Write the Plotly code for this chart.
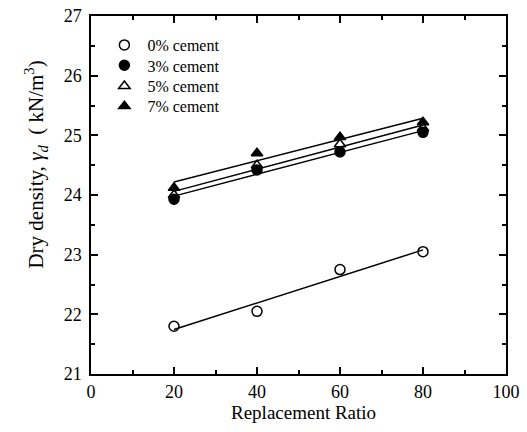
import numpy as np
import plotly.graph_objects as go

replacement_ratio = [20, 40, 60, 80]
series_names = ["0% cement", "3% cement", "5% cement", "7% cement"]
dens_0 = [21.80, 22.05, 22.75, 23.05]
dens_3 = [23.93, 24.42, 24.72, 25.05]
dens_5 = [24.00, 24.50, 24.85, 25.12]
dens_7 = [24.12, 24.70, 24.97, 25.22]
x_ticks = [0, 20, 40, 60, 80, 100]
y_ticks = [21, 22, 23, 24, 25, 26, 27]

symbols = ["circle-open", "circle", "triangle-up-open", "triangle-up"]
legend_ids = ["legend", "legend2", "legend3", "legend4"]
legend_rows = [0.919, 0.862, 0.804, 0.748]
FONT = "Liberation Serif, Times New Roman, serif"

fig = go.Figure()
for name, ys, sym, lg in zip(series_names, [dens_0, dens_3, dens_5, dens_7], symbols, legend_ids):
    k, b = np.polyfit(replacement_ratio, ys, 1)
    xf = [replacement_ratio[0], replacement_ratio[-1]]
    fig.add_trace(go.Scatter(x=xf, y=[k * v + b for v in xf], mode="lines",
                             line=dict(color="black", width=1.5), showlegend=False,
                             hoverinfo="skip"))
    fig.add_trace(go.Scatter(x=replacement_ratio, y=ys, mode="markers", name=name, legend=lg,
                             marker=dict(symbol=sym, size=10, color="black",
                                         line=dict(color="black", width=1.5))))

axis_common = dict(showline=True, linecolor="black", linewidth=1.5, mirror="ticks",
                   ticks="inside", ticklen=7, tickwidth=1.5, tickcolor="black",
                   showgrid=False, zeroline=False, automargin=False,
                   tickfont=dict(family=FONT, size=18, color="black"))

fig.update_xaxes(range=[0, 100], tickvals=x_ticks, ticklabelstandoff=1,
                 minor=dict(dtick=10, ticks="inside", ticklen=4, tickwidth=1.5, tickcolor="black"),
                 **axis_common)
fig.update_yaxes(range=[21, 27], tickvals=y_ticks, ticklabelstandoff=4,
                 minor=dict(dtick=0.5, ticks="inside", ticklen=4, tickwidth=1.5, tickcolor="black"),
                 **axis_common)

fig.add_annotation(text="Replacement Ratio", xref="paper", yref="paper", x=0.512, y=-0.108,
                   xanchor="center", yanchor="middle", showarrow=False,
                   font=dict(family=FONT, size=19, color="black"))
fig.add_annotation(text="Dry density, <i>γ<sub>d</sub></i>  ( kN/m<sup>3</sup>)",
                   xref="paper", yref="paper", x=-0.1325, y=0.585, textangle=-90,
                   xanchor="center", yanchor="middle", showarrow=False,
                   font=dict(family=FONT, size=21, color="black"))

legend_style = dict(bgcolor="rgba(0,0,0,0)", font=dict(family=FONT, size=16, color="black"),
                    itemwidth=36, xanchor="left", yanchor="middle", x=0.025)
layout_legends = {lg: dict(y=yy, **legend_style) for lg, yy in zip(legend_ids, legend_rows)}

fig.update_layout(width=527, height=432, plot_bgcolor="white", paper_bgcolor="white",
                  margin=dict(l=91, r=21, t=16, b=58), **layout_legends)
fig.write_html("out.html", config={"displayModeBar": False},
               post_script="document.body.style.margin='0px';")
